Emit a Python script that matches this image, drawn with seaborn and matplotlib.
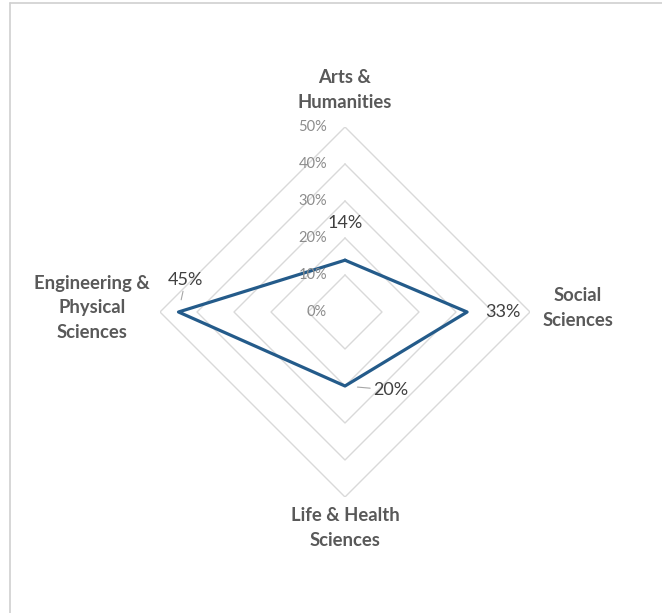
import numpy as np
import pandas as pd
import matplotlib
matplotlib.use("Agg")
import matplotlib.pyplot as plt
import seaborn as sns
from matplotlib.lines import Line2D

categories = ["Arts &\nHumanities", "Social\nSciences", "Life & Health\nSciences", "Engineering &\nPhysical\nSciences"]
values = [0.14, 0.33, 0.20, 0.45]
value_labels = ["14%", "33%", "20%", "45%"]
rings = [0.1, 0.2, 0.3, 0.4, 0.5]
tick_values = [0.0, 0.1, 0.2, 0.3, 0.4, 0.5]
tick_labels = ["0%", "10%", "20%", "30%", "40%", "50%"]

sns.set_theme(style="white")
plt.rcParams["font.family"] = ["Lato", "DejaVu Sans"]

DPI = 100
W, H = 662, 613
fig = plt.figure(figsize=(W / DPI, H / DPI), dpi=DPI)
cx, cy, R = 345, 312, 185
ax = fig.add_axes([(cx - R) / W, (H - cy - R) / H, 2 * R / W, 2 * R / H], projection="polar")
ax.set_theta_zero_location("N")
ax.set_theta_direction(-1)
ax.set_ylim(0, 0.5)
ax.grid(False)
ax.spines["polar"].set_visible(False)
ax.set_xticks([])
ax.set_yticks([])
ax.patch.set_alpha(0)

n = len(categories)
theta = np.linspace(0, 2 * np.pi, n, endpoint=False)
theta_closed = np.append(theta, theta[0])

grid_color = "#D9D9D9"
for r in rings:
    ring_df = pd.DataFrame({"theta": theta_closed, "r": [r] * (n + 1)})
    sns.lineplot(data=ring_df, x="theta", y="r", sort=False, ax=ax, color=grid_color,
                 linewidth=1.0, estimator=None)

df = pd.DataFrame({"theta": theta_closed, "r": values + [values[0]]})
sns.lineplot(data=df, x="theta", y="r", sort=False, ax=ax, color="#245B8A",
             linewidth=2.3, estimator=None)
ax.set_xlabel("")
ax.set_ylabel("")
ax.set_ylim(0, 0.5)

px = 72.0 / DPI
# radial tick labels
for v, lab in zip(tick_values, tick_labels):
    ax.annotate(lab, xy=(0, v), xytext=(-18 * px, 0), textcoords="offset points",
                ha="right", va="center", fontsize=10.5, color="#8C8C8C")

# category labels
cat_offsets = [(0, 37), (48, 4), (0, -31), (-68, 4)]
for t, lab, (dx, dy) in zip(theta, categories, cat_offsets):
    ax.annotate(lab, xy=(t, 0.5), xytext=(dx * px, dy * px), textcoords="offset points",
                ha="center", va="center", fontsize=13.3, color="#595959",
                fontweight="bold", linespacing=1.55)

# data labels
val_offsets = [(0, 37), (36, 0), (46, -4), (7, 32)]
leader = [False, False, True, True]
for t, v, lab, (dx, dy), ld in zip(theta, values, value_labels, val_offsets, leader):
    kw = {}
    if ld:
        kw["arrowprops"] = dict(arrowstyle="-", color="#A6A6A6", lw=0.8, shrinkA=0, shrinkB=9)
    ax.annotate(lab, xy=(t, v), xytext=(dx * px, dy * px), textcoords="offset points",
                ha="center", va="center", fontsize=13, color="#404040", **kw)

# chart border
fig.add_artist(Line2D([9.5 / W, 1], [1 - 2.5 / H, 1 - 2.5 / H], color="#D0D0D0", lw=1.2))
fig.add_artist(Line2D([9.5 / W, 9.5 / W], [0, 1 - 2.5 / H], color="#D0D0D0", lw=1.2))

fig.savefig("out.png", dpi=DPI)
